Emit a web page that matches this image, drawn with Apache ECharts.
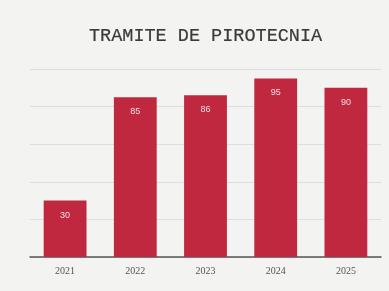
<!DOCTYPE html>
<html>
<head>
<meta charset="utf-8">
<script src="https://cdn.jsdelivr.net/npm/echarts@6/dist/echarts.min.js"></script>
<style>
  html, body { margin: 0; padding: 0; background: #f3f3f1; }
  #chart { width: 389px; height: 291px; }
</style>
</head>
<body>
<div id="chart"></div>
<script>
var years = ["2021", "2022", "2023", "2024", "2025"];
var tramites = [30, 85, 86, 95, 90];

var myChart = echarts.init(document.getElementById("chart"));
var option = {
  backgroundColor: "#f3f3f1",
  title: {
    text: "TRAMITE DE PIROTECNIA",
    left: 84,
    top: 22,
    textStyle: {
      fontFamily: "Liberation Mono",
      fontSize: 18.5,
      fontWeight: "normal",
      color: "#3a3a3a",
      textBorderColor: "#3a3a3a",
      textBorderWidth: 0.2
    }
  },
  grid: {
    left: 30,
    right: 8,
    top: 69,
    bottom: 34,
    containLabel: false
  },
  xAxis: {
    type: "category",
    data: years,
    axisLine: { lineStyle: { color: "#555", width: 1.5 } },
    axisTick: { show: false },
    axisLabel: {
      color: "#555",
      fontFamily: "Liberation Serif",
      fontSize: 10,
      margin: 9
    }
  },
  yAxis: {
    type: "value",
    min: 0,
    max: 100,
    interval: 20,
    axisLabel: { show: false },
    axisLine: { show: false },
    axisTick: { show: false },
    splitLine: { lineStyle: { color: "#dedede" } }
  },
  series: [
    {
      type: "bar",
      data: tramites,
      barWidth: "61%",
      itemStyle: { color: "#bf283f" },
      label: {
        show: true,
        position: "insideTop",
        distance: 10,
        color: "#f6dde2",
        fontSize: 9
      }
    }
  ]
};
myChart.setOption(option);
</script>
</body>
</html>
